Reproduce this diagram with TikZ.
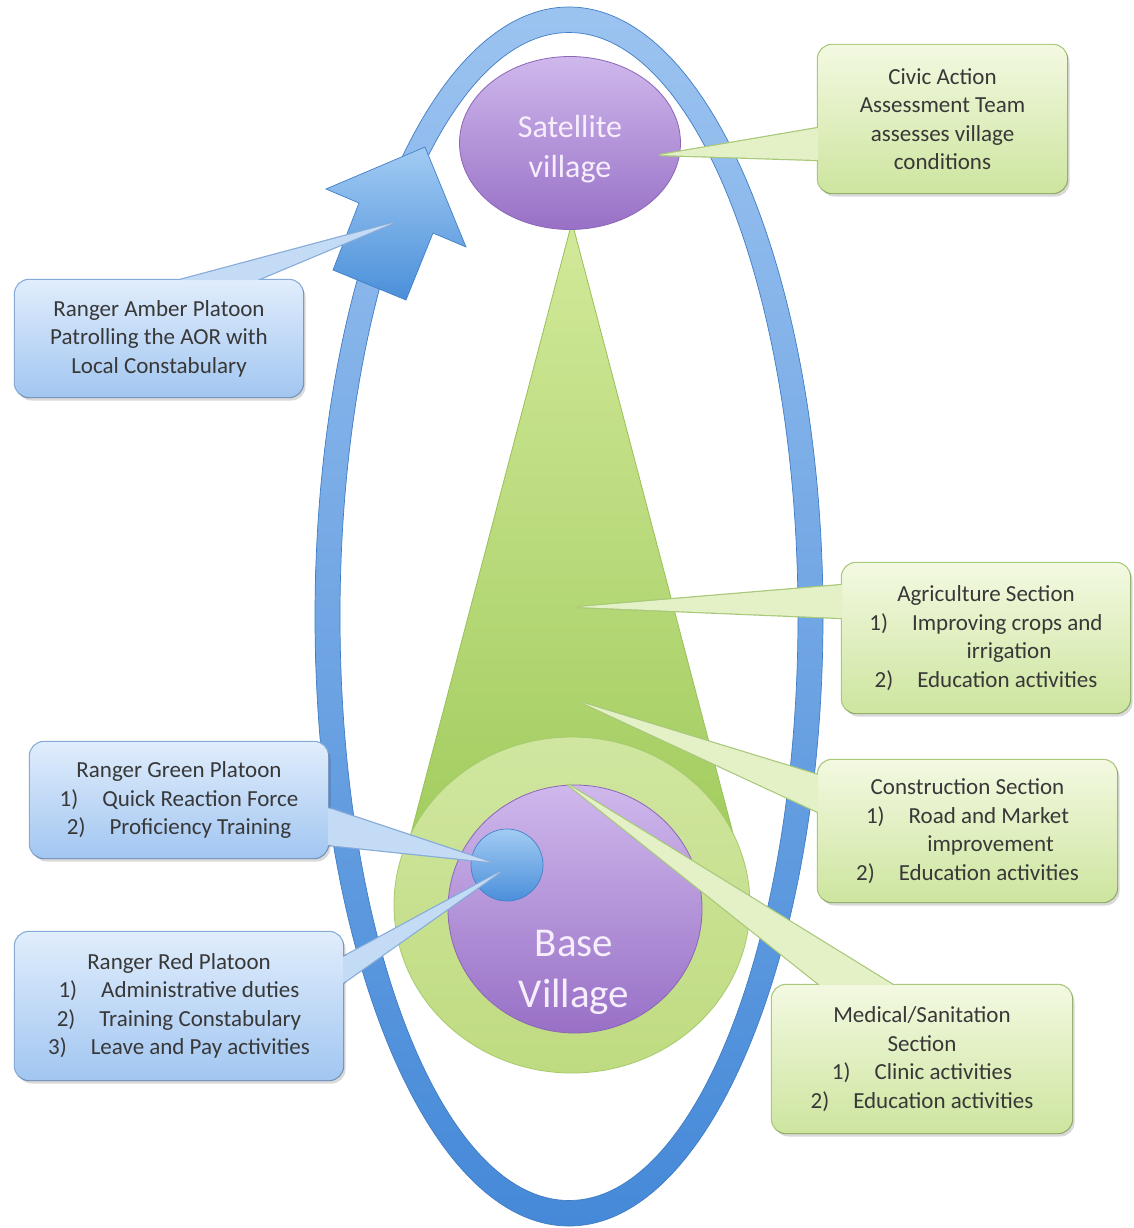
\documentclass[tikz,border=0pt]{standalone}
\usepackage{fontspec}
\setmainfont{Carlito}
\usetikzlibrary{calc,shadows,shapes.geometric}
\pgfdeclarelayer{back}
\pgfdeclarelayer{ptr}
\pgfdeclarelayer{front}
\pgfsetlayers{back,ptr,main,front}
\definecolor{ringtop}{HTML}{9CC3F0}
\definecolor{ringmid}{HTML}{74A9E8}
\definecolor{ringbot}{HTML}{4589D8}
\definecolor{ringline}{HTML}{3F7DC4}
\definecolor{conetop}{HTML}{D2E99A}
\definecolor{conebot}{HTML}{92C34B}
\definecolor{coneline}{HTML}{98C158}
\definecolor{lgtop}{HTML}{D0E6A0}
\definecolor{lgbot}{HTML}{BFDB80}
\definecolor{lgline}{HTML}{A6CA6C}
\definecolor{purtop}{HTML}{CFB8EC}
\definecolor{purbot}{HTML}{9870C6}
\definecolor{purline}{HTML}{8C66B8}
\definecolor{bltop}{HTML}{A2CBF3}
\definecolor{blbot}{HTML}{4A8FDA}
\definecolor{blline}{HTML}{4180C8}
\definecolor{cbtop}{HTML}{E0EDFC}
\definecolor{cbbot}{HTML}{A2C6F1}
\definecolor{cbline}{HTML}{86ABD8}
\definecolor{cbptr}{HTML}{C4DBF6}
\definecolor{cgtop}{HTML}{F3F9E1}
\definecolor{cgbot}{HTML}{CDE59F}
\definecolor{cgline}{HTML}{A8C87A}
\definecolor{cgptr}{HTML}{E4F1C6}
\definecolor{txt}{HTML}{383838}
\definecolor{vtxt}{HTML}{F6EEFC}
\begin{document}
\begin{tikzpicture}[x=1pt,y=-1pt,
  vtext/.style={text=vtxt, align=center, inner sep=0pt},
  village/.style={ellipse, draw=purline, line width=0.8pt, top color=purtop, bottom color=purbot, inner sep=0pt},
  callbox/.style={rounded corners=14pt, align=center, text=txt, inner sep=4pt, outer sep=0pt,
     font=\fontsize{23}{28.5}\selectfont,
     drop shadow={shadow xshift=2.5pt, shadow yshift=-3.5pt, opacity=0.15, fill=black}},
  bluebox/.style={callbox, top color=cbtop, bottom color=cbbot},
  greenbox/.style={callbox, top color=cgtop, bottom color=cgbot},
  blueboxedge/.style={draw=cbline, line width=2.4pt, rounded corners=14pt},
  greenboxedge/.style={draw=cgline, line width=2.4pt, rounded corners=14pt},
  blueptredge/.style={draw=cbline, line width=2.4pt, line join=round},
  greenptredge/.style={draw=cgline, line width=2.4pt, line join=round},
  blueptrfill/.style={fill=cbptr},
  greenptrfill/.style={fill=cgptr}
]
\useasboundingbox (0,0) rectangle (1133,1228);

\begin{pgfonlayer}{back}
\fill[white] (0,0) rectangle (1133,1228);
% blue ring
\shade[top color=ringtop, middle color=ringmid, bottom color=ringbot, even odd rule]
  (569,616.5) ellipse [x radius=254, y radius=609.5]
  (569,616.5) ellipse [x radius=229, y radius=584];
\draw[ringline, line width=0.7pt]
  (569,616.5) ellipse [x radius=254, y radius=609.5]
  (569,616.5) ellipse [x radius=229, y radius=584];
% green cone
\coordinate (apex) at (572,222);
\coordinate (tanr) at (731.6,828);
\shadedraw[top color=conetop, bottom color=conebot, draw=coneline, line width=0.8pt]
  (apex) -- (tanr) arc[start angle=-14.75, end angle=194.75, radius=165] -- cycle;
% light green circle
\node[ellipse, draw=lgline, line width=0.8pt, top color=lgtop, bottom color=lgbot,
      minimum width=356pt, minimum height=336pt, inner sep=0pt] (lg) at (572,905) {};
% base village
\node[village, minimum width=254pt, minimum height=248pt] (bv) at (575,909) {};
\node[vtext, font=\fontsize{41}{51}\selectfont] (bvtext) at (574,972) {Base\\Village};
% small blue circle
\node[circle, draw=blline, line width=0.7pt, top color=bltop, bottom color=blbot,
      minimum size=72pt, inner sep=0pt] (bc) at (507,865) {};
% satellite village
\node[village, minimum width=221pt, minimum height=173pt] (sat) at (570,143) {};
\node[vtext, font=\fontsize{32}{40}\selectfont] (sattext) at (570,149) {Satellite\\village};
% blue block arrow
\shadedraw[top color=bltop, bottom color=blbot, draw=blline, line width=0.7pt, line join=miter]
  (425,147) -- (466,247) -- (433,233) -- (406,300) -- (333,270) -- (359,203) -- (326,189) -- cycle;
\coordinate (arrowpt) at (393,223);
\coordinate (agript) at (578,607);
\coordinate (conpt) at (583,703);
\end{pgfonlayer}

% callout boxes
\node[greenbox, minimum width=249pt, minimum height=148pt] (civic) at (942.5,119)
  {Civic Action\\Assessment Team\\assesses village\\conditions};
\node[bluebox, minimum width=288pt, minimum height=117pt] (amber) at (159,338.5)
  {Ranger Amber Platoon\\Patrolling the AOR with\\Local Constabulary};
\node[bluebox, minimum width=298pt, minimum height=116pt] (greenp) at (179,800)
  {Ranger Green Platoon\\1)\hspace{24pt}Quick Reaction Force\\2)\hspace{24pt}Proficiency Training};
\node[bluebox, minimum width=328pt, minimum height=148pt] (redp) at (179,1006)
  {Ranger Red Platoon\\1)\hspace{24pt}Administrative duties\\2)\hspace{24pt}Training Constabulary\\3)\hspace{24pt}Leave and Pay activities};
\node[greenbox, minimum width=288pt, minimum height=150pt] (agri) at (986,638)
  {Agriculture Section\\1)\hspace{24pt}Improving crops and\\\hspace*{46pt}irrigation\\2)\hspace{24pt}Education activities};
\node[greenbox, minimum width=299pt, minimum height=142pt] (constr) at (967.5,831)
  {Construction Section\\1)\hspace{24pt}Road and Market\\\hspace*{46pt}improvement\\2)\hspace{24pt}Education activities};
\node[greenbox, minimum width=300pt, minimum height=148pt] (medic) at (922,1059)
  {Medical/Sanitation\\Section\\1)\hspace{24pt}Clinic activities\\2)\hspace{24pt}Education activities};

% pointer coordinates
\coordinate (civtip) at ($(sat.center)+(90,12)$);
\coordinate (civb1) at ($(civic.west)+(0,9)$);
\coordinate (civb2) at ($(civic.west)+(0,41)$);
\coordinate (ambtip) at (arrowpt);
\coordinate (ambb1) at ($(amber.north)+(21,0)$);
\coordinate (ambb2) at ($(amber.north)+(98,0)$);
\coordinate (grtip) at ($(bc.center)+(-17,-3)$);
\coordinate (grb1) at ($(greenp.east)+(0,8)$);
\coordinate (grb2) at ($(greenp.east)+(0,45)$);
\coordinate (rdtip) at ($(bc.center)+(-7,7)$);
\coordinate (rdb1) at ($(redp.east)+(0,-49)$);
\coordinate (rdb2) at ($(redp.east)+(0,-23)$);
\coordinate (agtip) at (agript);
\coordinate (agb1) at ($(agri.west)+(0,-53)$);
\coordinate (agb2) at ($(agri.west)+(0,-20)$);
\coordinate (cotip) at (conpt);
\coordinate (cob1) at ($(constr.west)+(0,-56)$);
\coordinate (cob2) at ($(constr.west)+(0,-19)$);
\coordinate (mdtip) at ($(bv.north)+(-7,0)$);
\coordinate (mdb1) at ($(medic.north)+(-102,0)$);
\coordinate (mdb2) at ($(medic.north)+(-29,0)$);

\begin{pgfonlayer}{ptr}
\draw[greenboxedge] (civic.south west) rectangle (civic.north east);
\draw[greenptredge] (civtip) -- (civb1) -- (civb2) -- cycle;
\draw[blueboxedge] (amber.south west) rectangle (amber.north east);
\draw[blueptredge] (ambtip) -- (ambb1) -- (ambb2) -- cycle;
\draw[blueboxedge] (greenp.south west) rectangle (greenp.north east);
\draw[blueptredge] (grtip) -- (grb1) -- (grb2) -- cycle;
\draw[blueboxedge] (redp.south west) rectangle (redp.north east);
\draw[blueptredge] (rdtip) -- (rdb1) -- (rdb2) -- cycle;
\draw[greenboxedge] (agri.south west) rectangle (agri.north east);
\draw[greenptredge] (agtip) -- (agb1) -- (agb2) -- cycle;
\draw[greenboxedge] (constr.south west) rectangle (constr.north east);
\draw[greenptredge] (cotip) -- (cob1) -- (cob2) -- cycle;
\draw[greenboxedge] (medic.south west) rectangle (medic.north east);
\draw[greenptredge] (mdtip) -- (mdb1) -- (mdb2) -- cycle;
\end{pgfonlayer}

\begin{pgfonlayer}{front}
\fill[greenptrfill] (civtip) -- (civb1) -- (civb2) -- cycle;
\fill[blueptrfill] (ambtip) -- (ambb1) -- (ambb2) -- cycle;
\fill[blueptrfill] (grtip) -- (grb1) -- (grb2) -- cycle;
\fill[blueptrfill] (rdtip) -- (rdb1) -- (rdb2) -- cycle;
\fill[greenptrfill] (agtip) -- (agb1) -- (agb2) -- cycle;
\fill[greenptrfill] (cotip) -- (cob1) -- (cob2) -- cycle;
\fill[greenptrfill] (mdtip) -- (mdb1) -- (mdb2) -- cycle;
\end{pgfonlayer}
\end{tikzpicture}
\end{document}
